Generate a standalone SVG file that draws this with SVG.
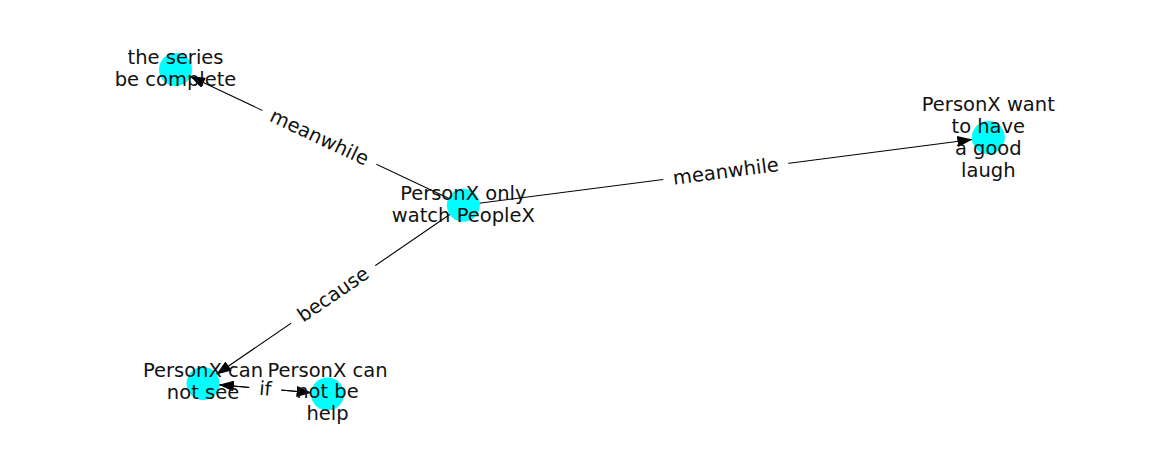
<svg xmlns="http://www.w3.org/2000/svg" width="1162" height="462" viewBox="0 0 1162 462">
  <style>
    .edge { stroke: #000; stroke-width: 1.1; fill: none; marker-end: url(#arrow); }
    .node { fill: #00ffff; }
    .lbl { font-family: "DejaVu Sans", "Liberation Sans", sans-serif; font-size: 19.5px; fill: #111; text-anchor: middle; }
    .bg { fill: #fff; }
  </style>
  <defs>
    <marker id="arrow" viewBox="0 0 15 11" refX="15" refY="5.5" markerWidth="15" markerHeight="11" markerUnits="userSpaceOnUse" orient="auto">
      <path d="M0,0 L15,5.5 L0,11 z" fill="#000"/>
    </marker>
  </defs>
  <rect width="1162" height="462" fill="#fff"/>

  <g id="connectors">
    <path class="edge" d="M463.3,205.3 L190,76.3"/>
    <path class="edge" d="M463.3,205.3 L972.4,139.5"/>
    <path class="edge" d="M463.3,205.3 L216.2,374.5"/>
    <path class="edge" d="M203,383.5 L311.6,392.7"/>
    <path class="edge" d="M327.5,394 L218.9,384.8"/>
  </g>

  <g id="edge-labels">
    <g transform="translate(319.4,137.4) rotate(25.26)">
      <rect class="bg" x="-63" y="-14" width="126" height="28"/>
      <text class="lbl" x="0" y="6.5">meanwhile</text>
    </g>
    <g transform="translate(725.8,171.4) rotate(-7.36)">
      <rect class="bg" x="-63" y="-14" width="126" height="28"/>
      <text class="lbl" x="0" y="6.5">meanwhile</text>
    </g>
    <g transform="translate(333.2,294.4) rotate(-34.4)">
      <rect class="bg" x="-51" y="-14" width="102" height="28"/>
      <text class="lbl" x="0" y="6.5">because</text>
    </g>
    <g transform="translate(265.3,388.8) rotate(4.82)">
      <rect class="bg" x="-16" y="-14" width="32" height="28"/>
      <text class="lbl" x="0" y="6.5">if</text>
    </g>
  </g>

  <g id="n1">
    <circle class="node" cx="175.5" cy="69.5" r="16.5"/>
    <text class="lbl" x="175.5"><tspan x="175.5" y="64">the series</tspan><tspan x="175.5" y="85.5">be complete</tspan></text>
  </g>
  <g id="n2">
    <circle class="node" cx="463.3" cy="205.3" r="16.5"/>
    <text class="lbl"><tspan x="463.3" y="200">PersonX only</tspan><tspan x="463.3" y="221.5">watch PeopleX</tspan></text>
  </g>
  <g id="n3">
    <circle class="node" cx="988.3" cy="137.5" r="16.5"/>
    <text class="lbl"><tspan x="988.3" y="111">PersonX want</tspan><tspan x="988.3" y="133">to have</tspan><tspan x="988.3" y="155">a good</tspan><tspan x="988.3" y="177">laugh</tspan></text>
  </g>
  <g id="n4">
    <circle class="node" cx="203" cy="383.5" r="16.5"/>
    <text class="lbl"><tspan x="203" y="377">PersonX can</tspan><tspan x="203" y="398.5">not see</tspan></text>
  </g>
  <g id="n5">
    <circle class="node" cx="327.5" cy="394" r="16.5"/>
    <text class="lbl"><tspan x="327.5" y="376.5">PersonX can</tspan><tspan x="327.5" y="398">not be</tspan><tspan x="327.5" y="419.5">help</tspan></text>
  </g>
</svg>
